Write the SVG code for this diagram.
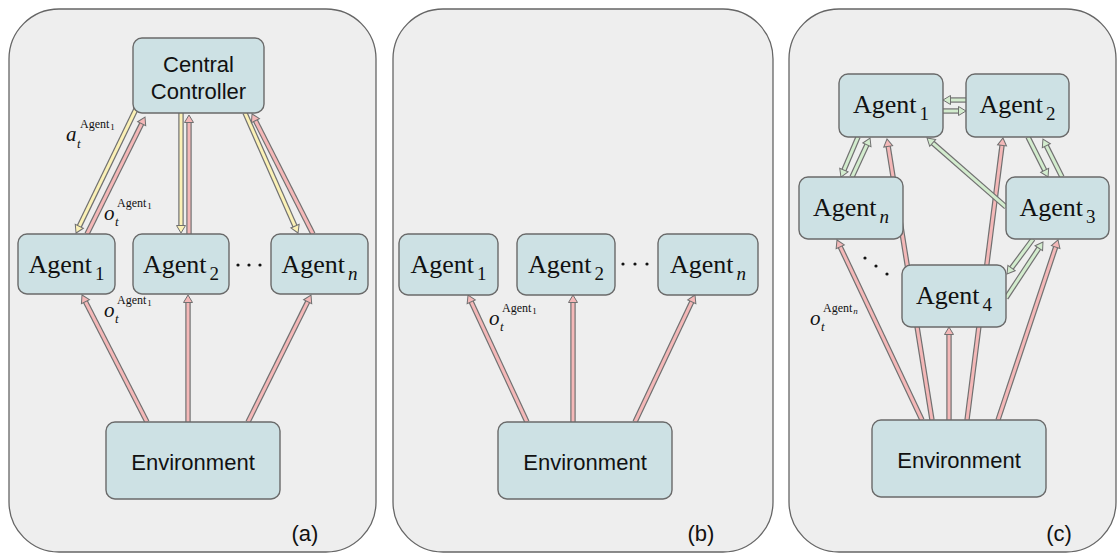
<svg xmlns="http://www.w3.org/2000/svg" width="1118" height="554" viewBox="0 0 1118 554">
  <defs>
    <style>
      .panel { fill: #eeeeee; stroke: #666666; stroke-width: 1.3; }
      .node rect { fill: #cde1e4; stroke: #6a6a6a; stroke-width: 1.4; }
      .sans { font-family: "Liberation Sans", Arial, sans-serif; font-size: 22px; fill: #111; }
      .agent { font-family: "Liberation Serif", "Times New Roman", serif; font-size: 26px; fill: #111; }
      .mi { font-family: "Liberation Serif", "Times New Roman", serif; font-style: italic; font-size: 21px; fill: #111; }
      .msub { font-family: "Liberation Serif", "Times New Roman", serif; font-style: italic; font-size: 13px; fill: #111; }
      .msup { font-family: "Liberation Serif", "Times New Roman", serif; font-size: 12px; fill: #111; }
      .ol { stroke: #707070; stroke-width: 5.4; fill: none; }
      .pk { stroke: #f4b8b8; stroke-width: 3; fill: none; marker-end: url(#hpk); }
      .yl { stroke: #fbf1b6; stroke-width: 3; fill: none; marker-end: url(#hyl); }
      .gr { stroke: #d3ecce; stroke-width: 3; fill: none; marker-end: url(#hgr); }
      .dot { fill: #111; }
    </style>
    <marker id="hpk" markerUnits="userSpaceOnUse" markerWidth="12" markerHeight="12" refX="0" refY="0" viewBox="-1 -6 10 12" orient="auto" overflow="visible">
      <path d="M-0.5,-4.5 L7,0 L-0.5,4.5 Z" fill="#f4b8b8" stroke="#707070" stroke-width="1"/>
    </marker>
    <marker id="hyl" markerUnits="userSpaceOnUse" markerWidth="12" markerHeight="12" refX="0" refY="0" viewBox="-1 -6 10 12" orient="auto" overflow="visible">
      <path d="M-0.5,-4.5 L7,0 L-0.5,4.5 Z" fill="#fbf1b6" stroke="#707070" stroke-width="1"/>
    </marker>
    <marker id="hgr" markerUnits="userSpaceOnUse" markerWidth="12" markerHeight="12" refX="0" refY="0" viewBox="-1 -6 10 12" orient="auto" overflow="visible">
      <path d="M-0.5,-4.5 L7,0 L-0.5,4.5 Z" fill="#d3ecce" stroke="#707070" stroke-width="1"/>
    </marker>
  </defs>

  <!-- panel backgrounds -->
  <g id="panels">
    <rect class="panel" x="9" y="9" width="367" height="543" rx="50"/>
    <rect class="panel" x="393" y="9" width="380" height="543" rx="50"/>
    <rect class="panel" x="789" y="9" width="327" height="543" rx="50"/>
  </g>

  <!-- connectors: gray outline stroke under a coloured core -->
  <g id="connectors">
    <!-- (a) controller <-> agents -->
    <line class="ol" x1="136" y1="109" x2="79.1" y2="226.7"/><line class="yl" x1="136" y1="109" x2="79.1" y2="226.7"/>
    <line class="ol" x1="87" y1="234" x2="141.9" y2="123.3"/><line class="pk" x1="87" y1="234" x2="141.9" y2="123.3"/>
    <line class="ol" x1="181" y1="113" x2="181" y2="226"/><line class="yl" x1="181" y1="113" x2="181" y2="226"/>
    <line class="ol" x1="189" y1="234" x2="189" y2="122"/><line class="pk" x1="189" y1="234" x2="189" y2="122"/>
    <line class="ol" x1="245" y1="113" x2="295.2" y2="226.6"/><line class="yl" x1="245" y1="113" x2="295.2" y2="226.6"/>
    <line class="ol" x1="313" y1="234" x2="255.2" y2="120.2"/><line class="pk" x1="313" y1="234" x2="255.2" y2="120.2"/>
    <!-- (a) environment -> agents -->
    <line class="ol" x1="147" y1="422" x2="85.2" y2="301.2"/><line class="pk" x1="147" y1="422" x2="85.2" y2="301.2"/>
    <line class="ol" x1="188" y1="422" x2="188" y2="302"/><line class="pk" x1="188" y1="422" x2="188" y2="302"/>
    <line class="ol" x1="248" y1="422" x2="307.9" y2="301.3"/><line class="pk" x1="248" y1="422" x2="307.9" y2="301.3"/>
    <!-- (b) environment -> agents -->
    <line class="ol" x1="527" y1="422" x2="471" y2="301.4"/><line class="pk" x1="527" y1="422" x2="471" y2="301.4"/>
    <line class="ol" x1="573" y1="422" x2="573" y2="302"/><line class="pk" x1="573" y1="422" x2="573" y2="302"/>
    <line class="ol" x1="635" y1="422" x2="692" y2="301.3"/><line class="pk" x1="635" y1="422" x2="692" y2="301.3"/>
    <!-- (c) environment -> agents -->
    <line class="ol" x1="932" y1="420" x2="888.1" y2="145.9"/><line class="pk" x1="932" y1="420" x2="888.1" y2="145.9"/>
    <line class="ol" x1="922" y1="420" x2="840" y2="246.3"/><line class="pk" x1="922" y1="420" x2="840" y2="246.3"/>
    <line class="ol" x1="949" y1="420" x2="949" y2="334"/><line class="pk" x1="949" y1="420" x2="949" y2="334"/>
    <line class="ol" x1="967" y1="420" x2="1002.1" y2="144.9"/><line class="pk" x1="967" y1="420" x2="1002.1" y2="144.9"/>
    <line class="ol" x1="998" y1="420" x2="1055.8" y2="246.6"/><line class="pk" x1="998" y1="420" x2="1055.8" y2="246.6"/>
    <!-- (c) agent <-> agent messages -->
    <line class="ol" x1="966" y1="100" x2="950" y2="100"/><line class="gr" x1="966" y1="100" x2="950" y2="100"/>
    <line class="ol" x1="943" y1="111" x2="959" y2="111"/><line class="gr" x1="943" y1="111" x2="959" y2="111"/>
    <line class="ol" x1="858" y1="137" x2="843.7" y2="170.6"/><line class="gr" x1="858" y1="137" x2="843.7" y2="170.6"/>
    <line class="ol" x1="852" y1="177" x2="867.1" y2="144.4"/><line class="gr" x1="852" y1="177" x2="867.1" y2="144.4"/>
    <line class="ol" x1="1006" y1="207" x2="932.3" y2="142.6"/><line class="gr" x1="1006" y1="207" x2="932.3" y2="142.6"/>
    <line class="ol" x1="1028" y1="137" x2="1044.9" y2="170.7"/><line class="gr" x1="1028" y1="137" x2="1044.9" y2="170.7"/>
    <line class="ol" x1="1062" y1="177" x2="1046.1" y2="145.3"/><line class="gr" x1="1062" y1="177" x2="1046.1" y2="145.3"/>
    <line class="ol" x1="1033" y1="239" x2="1011.2" y2="268.4"/><line class="gr" x1="1033" y1="239" x2="1011.2" y2="268.4"/>
    <line class="ol" x1="1006" y1="298" x2="1039.1" y2="247.8"/><line class="gr" x1="1006" y1="298" x2="1039.1" y2="247.8"/>
  </g>

  <!-- panel (a): centralised -->
  <g id="a-controller" class="node">
    <rect x="133" y="38" width="131" height="75" rx="9"/>
    <text class="sans" x="198.5" y="72" text-anchor="middle">Central</text>
    <text class="sans" x="198.5" y="99" text-anchor="middle">Controller</text>
  </g>
  <g id="a-agent1" class="node">
    <rect x="18" y="234" width="97" height="60" rx="9"/>
    <text class="agent" x="66.5" y="273" text-anchor="middle">Agent<tspan dx="3" dy="7" font-size="19">1</tspan></text>
  </g>
  <g id="a-agent2" class="node">
    <rect x="133" y="234" width="96" height="60" rx="9"/>
    <text class="agent" x="181" y="273" text-anchor="middle">Agent<tspan dx="3" dy="7" font-size="19">2</tspan></text>
  </g>
  <g id="a-agentn" class="node">
    <rect x="271" y="234" width="97" height="60" rx="9"/>
    <text class="agent" x="319.5" y="273" text-anchor="middle">Agent<tspan dx="3" dy="7" font-size="19" font-style="italic">n</tspan></text>
  </g>
  <g id="a-environment" class="node">
    <rect x="106" y="422" width="174" height="77" rx="9"/>
    <text class="sans" x="193" y="470" text-anchor="middle">Environment</text>
  </g>
  <g id="a-dots">
    <circle class="dot" cx="238" cy="265" r="1.6"/><circle class="dot" cx="249" cy="265" r="1.6"/><circle class="dot" cx="260" cy="265" r="1.6"/>
  </g>
  <g id="a-label-action">
    <text class="mi" x="66" y="141">a</text>
    <text class="msub" x="77" y="148">t</text>
    <text class="msup" x="80" y="128">Agent<tspan font-size="9" dx="1" dy="2">1</tspan></text>
  </g>
  <g id="a-label-obs-upper">
    <text class="mi" x="104" y="220">o</text>
    <text class="msub" x="115" y="226">t</text>
    <text class="msup" x="117" y="207">Agent<tspan font-size="9" dx="1" dy="2">1</tspan></text>
  </g>
  <g id="a-label-obs-lower">
    <text class="mi" x="104" y="317">o</text>
    <text class="msub" x="115" y="323">t</text>
    <text class="msup" x="117" y="304">Agent<tspan font-size="9" dx="1" dy="2">1</tspan></text>
  </g>
  <text class="sans" x="305" y="541" text-anchor="middle">(a)</text>

  <!-- panel (b): independent -->
  <g id="b-agent1" class="node">
    <rect x="399" y="234" width="99" height="61" rx="9"/>
    <text class="agent" x="448.5" y="273" text-anchor="middle">Agent<tspan dx="3" dy="7" font-size="19">1</tspan></text>
  </g>
  <g id="b-agent2" class="node">
    <rect x="517" y="234" width="98" height="61" rx="9"/>
    <text class="agent" x="566" y="273" text-anchor="middle">Agent<tspan dx="3" dy="7" font-size="19">2</tspan></text>
  </g>
  <g id="b-agentn" class="node">
    <rect x="658" y="234" width="100" height="61" rx="9"/>
    <text class="agent" x="708" y="273" text-anchor="middle">Agent<tspan dx="3" dy="7" font-size="19" font-style="italic">n</tspan></text>
  </g>
  <g id="b-environment" class="node">
    <rect x="498" y="422" width="174" height="77" rx="9"/>
    <text class="sans" x="585" y="470" text-anchor="middle">Environment</text>
  </g>
  <g id="b-dots">
    <circle class="dot" cx="623" cy="264" r="1.6"/><circle class="dot" cx="635" cy="264" r="1.6"/><circle class="dot" cx="647" cy="264" r="1.6"/>
  </g>
  <g id="b-label-obs">
    <text class="mi" x="489" y="325">o</text>
    <text class="msub" x="500" y="331">t</text>
    <text class="msup" x="502" y="312">Agent<tspan font-size="9" dx="1" dy="2">1</tspan></text>
  </g>
  <text class="sans" x="701" y="541" text-anchor="middle">(b)</text>

  <!-- panel (c): networked -->
  <g id="c-agent1" class="node">
    <rect x="839" y="74" width="104" height="63" rx="9"/>
    <text class="agent" x="891" y="113" text-anchor="middle">Agent<tspan dx="3" dy="7" font-size="19">1</tspan></text>
  </g>
  <g id="c-agent2" class="node">
    <rect x="966" y="74" width="103" height="63" rx="9"/>
    <text class="agent" x="1017.5" y="113" text-anchor="middle">Agent<tspan dx="3" dy="7" font-size="19">2</tspan></text>
  </g>
  <g id="c-agentn" class="node">
    <rect x="799" y="177" width="104" height="62" rx="9"/>
    <text class="agent" x="851" y="216" text-anchor="middle">Agent<tspan dx="3" dy="7" font-size="19" font-style="italic">n</tspan></text>
  </g>
  <g id="c-agent3" class="node">
    <rect x="1006" y="177" width="103" height="62" rx="9"/>
    <text class="agent" x="1057.5" y="216" text-anchor="middle">Agent<tspan dx="3" dy="7" font-size="19">3</tspan></text>
  </g>
  <g id="c-agent4" class="node">
    <rect x="902" y="265" width="104" height="62" rx="9"/>
    <text class="agent" x="954" y="304" text-anchor="middle">Agent<tspan dx="3" dy="7" font-size="19">4</tspan></text>
  </g>
  <g id="c-environment" class="node">
    <rect x="872" y="420" width="174" height="77" rx="9"/>
    <text class="sans" x="959" y="468" text-anchor="middle">Environment</text>
  </g>
  <g id="c-dots">
    <circle class="dot" cx="865" cy="258" r="1.6"/><circle class="dot" cx="876" cy="266" r="1.6"/><circle class="dot" cx="887" cy="274" r="1.6"/>
  </g>
  <g id="c-label-obs">
    <text class="mi" x="810" y="325">o</text>
    <text class="msub" x="821" y="331">t</text>
    <text class="msup" x="823" y="312">Agent<tspan font-size="9" font-style="italic" dx="1" dy="2">n</tspan></text>
  </g>
  <text class="sans" x="1059" y="541" text-anchor="middle">(c)</text>
</svg>
